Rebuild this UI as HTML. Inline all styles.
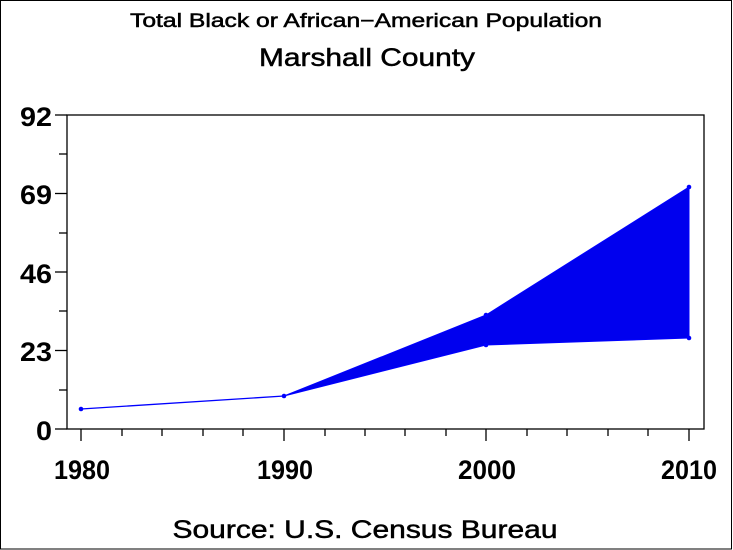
<!DOCTYPE html>
<html><head><style>body{margin:0;background:#fff}svg{display:block}</style></head>
<body>
<svg width="733" height="550" xmlns="http://www.w3.org/2000/svg" font-family="Liberation Sans, sans-serif">
<rect x="0.5" y="0.5" width="731" height="548.5" fill="#fff" stroke="#000" stroke-width="1"/>
<g stroke="#000" stroke-width="0.5">
<text x="366" y="27" font-size="19" text-anchor="middle" textLength="472" lengthAdjust="spacingAndGlyphs">Total Black or African−American Population</text>
<text x="367" y="66" font-size="25" text-anchor="middle" textLength="216" lengthAdjust="spacingAndGlyphs">Marshall County</text>
<text x="365" y="538" font-size="25" text-anchor="middle" textLength="385" lengthAdjust="spacingAndGlyphs">Source: U.S. Census Bureau</text>
</g>
<rect x="67" y="115" width="637" height="314" fill="none" stroke="#000" stroke-width="1.3"/>
<g stroke="#000" stroke-width="1.3">
<line x1="55" y1="115" x2="67" y2="115"/><line x1="55" y1="193.5" x2="67" y2="193.5"/><line x1="55" y1="272" x2="67" y2="272"/><line x1="55" y1="350.5" x2="67" y2="350.5"/><line x1="55" y1="429" x2="67" y2="429"/>
<line x1="59" y1="154" x2="67" y2="154"/><line x1="59" y1="233" x2="67" y2="233"/><line x1="59" y1="311" x2="67" y2="311"/><line x1="59" y1="390" x2="67" y2="390"/>
<line x1="81" y1="429" x2="81" y2="441"/><line x1="284" y1="429" x2="284" y2="441"/><line x1="486" y1="429" x2="486" y2="441"/><line x1="689" y1="429" x2="689" y2="441"/>
<line x1="122" y1="429" x2="122" y2="436"/><line x1="162" y1="429" x2="162" y2="436"/><line x1="203" y1="429" x2="203" y2="436"/><line x1="243" y1="429" x2="243" y2="436"/>
<line x1="325" y1="429" x2="325" y2="436"/><line x1="365" y1="429" x2="365" y2="436"/><line x1="405" y1="429" x2="405" y2="436"/><line x1="446" y1="429" x2="446" y2="436"/>
<line x1="527" y1="429" x2="527" y2="436"/><line x1="567" y1="429" x2="567" y2="436"/><line x1="608" y1="429" x2="608" y2="436"/><line x1="648" y1="429" x2="648" y2="436"/>
</g>
<g font-size="27" font-weight="bold" text-anchor="end">
<text x="52" y="126" textLength="32" lengthAdjust="spacingAndGlyphs">92</text>
<text x="52" y="204" textLength="32" lengthAdjust="spacingAndGlyphs">69</text>
<text x="52" y="283" textLength="32" lengthAdjust="spacingAndGlyphs">46</text>
<text x="52" y="361" textLength="32" lengthAdjust="spacingAndGlyphs">23</text>
<text x="52" y="440" textLength="16" lengthAdjust="spacingAndGlyphs">0</text>
</g>
<g font-size="27" font-weight="bold" text-anchor="middle">
<text x="82" y="479" textLength="56" lengthAdjust="spacingAndGlyphs">1980</text>
<text x="285" y="479" textLength="56" lengthAdjust="spacingAndGlyphs">1990</text>
<text x="487" y="479" textLength="58" lengthAdjust="spacingAndGlyphs">2000</text>
<text x="689" y="479" textLength="56" lengthAdjust="spacingAndGlyphs">2010</text>
</g>
<polyline points="81,409 284,396" fill="none" stroke="#0000ff" stroke-width="1.3"/>
<polygon points="284,396 486,315 689,187 689,338 486,345" fill="#0000ee" stroke="#0000ff" stroke-width="1"/>
<g fill="#0000ff"><circle cx="81" cy="409" r="2.3"/><circle cx="284" cy="396" r="2.3"/><circle cx="486" cy="315" r="2.3"/><circle cx="486" cy="345" r="2.3"/><circle cx="689" cy="187" r="2.3"/><circle cx="689" cy="338" r="2.3"/></g>
</svg>
</body></html>
